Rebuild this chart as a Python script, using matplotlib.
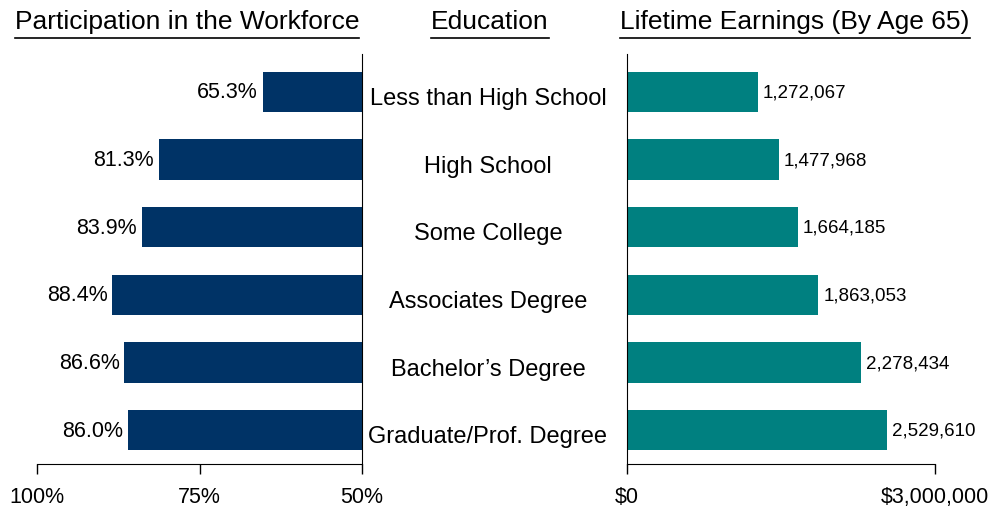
import matplotlib
matplotlib.use("Agg")
import matplotlib.pyplot as plt
from matplotlib.lines import Line2D

plt.rcParams['font.family'] = ['Liberation Sans', 'DejaVu Sans']

categories = ["Less than High School", "High School", "Some College",
              "Associates Degree", "Bachelor\u2019s Degree", "Graduate/Prof. Degree"]
participation = [65.3, 81.3, 83.9, 88.4, 86.6, 86.0]
earnings = [1272067, 1477968, 1664185, 1863053, 2278434, 2529610]
left_ticks = [100, 75, 50]
left_ticklabels = ["100%", "75%", "50%"]
right_ticks = [0, 3000000]
right_ticklabels = ["$0", "$3,000,000"]

navy = "#003366"
teal = "#008080"

fig = plt.figure(figsize=(10.08, 5.10), dpi=100)
H = 510.0
W = 1008.0
bottom = (H - 465) / H
top = (H - 55) / H

axL = fig.add_axes([37 / W, bottom, (362 - 37) / W, top - bottom])
axR = fig.add_axes([627 / W, bottom, (935 - 627) / W, top - bottom])

ys = list(range(len(categories)))
ylim = (5.5, -0.56)

# Left panel
axL.barh(ys, [p - 50 for p in participation], left=50, height=0.6, color=navy)
axL.set_xlim(100, 50)
axL.set_ylim(*ylim)
axL.set_xticks(left_ticks)
axL.set_xticklabels(left_ticklabels, fontsize=15.5)
axL.set_yticks([])
for s in ["top", "left"]:
    axL.spines[s].set_visible(False)
axL.spines["right"].set_position(("data", 50))
axL.tick_params(axis="x", direction="out", length=7, width=1, pad=9)
for y, p in zip(ys, participation):
    axL.text(p + 0.7, y, f"{p:.1f}%", ha="right", va="center", fontsize=15.5)

# Right panel
axR.barh(ys, earnings, height=0.6, color=teal)
axR.set_xlim(0, 3000000)
axR.set_ylim(*ylim)
axR.set_xticks(right_ticks)
axR.set_xticklabels(right_ticklabels, fontsize=15.5)
axR.set_yticks([])
for s in ["top", "right"]:
    axR.spines[s].set_visible(False)
axR.tick_params(axis="x", direction="out", length=7, width=1, pad=9)
for y, e in zip(ys, earnings):
    axR.text(e + 50000, y, f"{e:,}", ha="left", va="center", fontsize=13.5)

# Category labels in the middle
for y, c in zip(ys, categories):
    yp = axL.transData.transform((50, y))[1]
    yf = yp / fig.dpi / fig.get_figheight() - 6 / H
    fig.text(488 / W, yf, c, ha="center", va="center", fontsize=17)

# Titles with underline
titles = [("Participation in the Workforce", 187), ("Education", 490),
          ("Lifetime Earnings (By Age 65)", 795)]
fig.canvas.draw()
renderer = fig.canvas.get_renderer()
for t, xc in titles:
    txt = fig.text(xc / W, (H - 22) / H, t, ha="center", va="center", fontsize=19)
    bb = txt.get_window_extent(renderer=renderer)
    ly = (H - 38.5) / H
    fig.add_artist(Line2D([bb.x0 / fig.bbox.width, bb.x1 / fig.bbox.width], [ly, ly],
                          transform=fig.transFigure, color="black", linewidth=1.2))

fig.savefig("out.png", dpi=100)
